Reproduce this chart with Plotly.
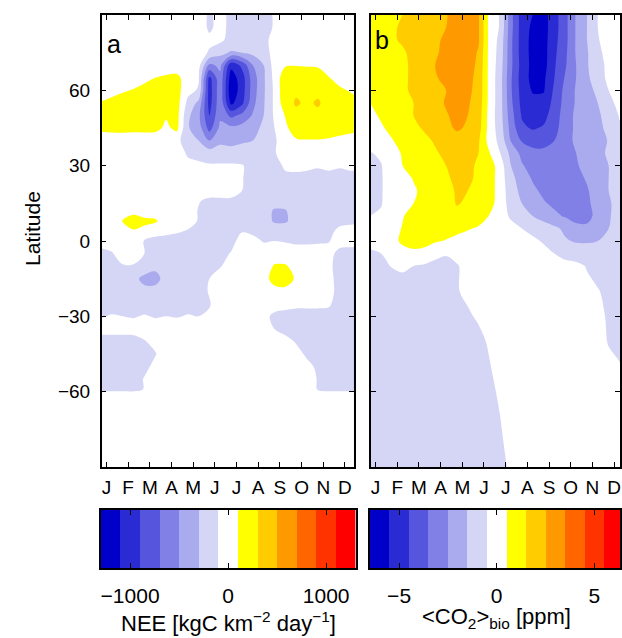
import plotly.graph_objects as go

# ---------------------------------------------------------------- data
# month positions of the grid columns (fractional months)
MONTH_POS = [0.75, 1.25, 1.75, 2.25, 2.75, 3.25, 3.75, 4.25, 4.75, 5.25, 5.75, 6.25, 6.75,
             7.25, 7.75, 8.25, 8.75, 9.25, 9.75, 10.25, 10.75, 11.25, 11.75, 12.25, 12.5]
MONTH_TICKS = [1, 2, 3, 4, 5, 6, 7, 8, 9, 10, 11, 12]
MONTH_LABELS = ["J", "F", "M", "A", "M", "J", "J", "A", "S", "O", "N", "D"]
LAT_TICKS = [-60, -30, 0, 30, 60]

# panel a: net ecosystem exchange, kgC km-2 day-1 (rows south -> north)
LAT_A = [-90, -61, -59, -55, -50, -45, -40, -35, -30, -25, -20, -15, -10, -5, 0, 4, 8, 12,
         16, 20, 25, 30, 35, 40, 45, 50, 55, 60, 65, 70, 75, 80, 85, 90]
NEE = [
    [0, 0, 0, 0, 0, 0, 0, 0, 0, 0, 0, 0, 0, 0, 0, 0, 0, 0, 0, 0, 0, 0, 0, 0, 0],
    [0, 0, 0, 0, 0, 0, 0, 0, 0, 0, 0, 0, 0, 0, 0, 0, 0, 0, 0, 0, 0, 0, 0, 0, 0],
    [-170, -170, -170, -170, -90, -30, -20, -20, -20, -20, -20, -20, -20, -20, -20, -20, -20, -20, -20, -20, -110, -170, -170, -170, -170],
    [-170, -170, -170, -170, -90, -30, -20, -20, -20, -20, -20, -20, -20, -20, -20, -20, -20, -20, -20, -20, -110, -170, -170, -170, -170],
    [-170, -170, -170, -170, -140, -60, -20, -20, -20, -20, -20, -20, -20, -20, -20, -20, -20, -20, -20, -70, -120, -170, -170, -170, -170],
    [-170, -170, -170, -170, -160, -110, -20, -20, -20, -20, -20, -20, -20, -20, -20, -20, -20, -20, -60, -120, -160, -170, -170, -170, -170],
    [-170, -170, -170, -160, -110, -60, -20, -20, -20, -20, -20, -20, -20, -20, -20, -20, -20, -60, -110, -160, -170, -170, -170, -170, -170],
    [-40, -40, -40, -40, -40, -40, -20, -20, -20, -20, -20, -20, -20, -20, -20, -20, -100, -140, -170, -170, -170, -170, -170, -170, -170],
    [-110, -90, -100, -110, -90, -110, -100, -110, -90, -100, -80, -20, -20, -20, -20, -60, -130, -140, -150, -150, -150, -150, -160, -170, -170],
    [-160, -150, -160, -150, -160, -150, -160, -150, -150, -150, -110, -20, -20, -20, -20, -20, -40, -60, -70, -70, -70, -80, -160, -170, -170],
    [-170, -170, -170, -180, -230, -230, -170, -170, -160, -150, -90, -20, -20, -20, -20, -20, 50, 60, 20, -20, -20, -40, -160, -170, -170],
    [-170, -170, -180, -230, -370, -370, -220, -170, -170, -170, -100, -30, -20, -20, -20, 40, 160, 170, 80, -20, -20, -50, -160, -170, -170],
    [-170, -160, -110, -110, -150, -250, -170, -170, -170, -170, -130, -110, -40, -20, -20, -20, 120, 120, 30, -20, -20, -60, -170, -170, -170],
    [-150, -110, -40, -40, -100, -170, -170, -170, -170, -170, -170, -150, -90, -20, -20, -30, -20, -20, -20, -20, -30, -40, -150, -170, -170],
    [-30, -40, -30, -20, -110, -150, -170, -170, -160, -170, -170, -170, -150, -40, -60, -110, -100, -110, -130, -130, -120, -110, -30, -30, -40],
    [-20, -20, 40, 80, 50, -30, -50, -80, -110, -150, -170, -170, -160, -110, -130, -170, -170, -170, -170, -170, -170, -150, -60, -50, -50],
    [-20, -10, 110, 210, 140, 130, -20, -30, -40, -110, -180, -180, -180, -180, -180, -180, -330, -330, -200, -180, -180, -180, -150, -130, -130],
    [-20, -20, 0, 30, 10, -20, -20, -20, -20, -110, -180, -180, -180, -180, -180, -180, -330, -320, -170, -170, -170, -170, -170, -170, -170],
    [-30, -30, -30, -30, -30, -30, -30, -30, -30, -90, -130, -130, -130, -130, -170, -170, -180, -180, -170, -170, -170, -170, -170, -170, -170],
    [-20, -90, -30, -30, -30, -30, -30, -30, -30, -30, -30, -30, -30, -100, -170, -170, -170, -170, -170, -170, -170, -170, -170, -170, -170],
    [-20, -20, -20, -20, -20, -20, -20, -20, -20, -20, -20, -20, -20, -90, -170, -170, -170, -130, -140, -130, -140, -130, -140, -130, -130],
    [-20, -20, -20, -20, -20, -20, -20, -20, -60, -70, -80, -80, -80, -90, -150, -150, -150, -80, -60, -80, -90, -80, -90, -80, -80],
    [-20, -20, -20, -20, -20, -20, -20, -20, -120, -150, -200, -200, -200, -200, -180, -150, -110, -40, -30, -40, -30, -40, -30, -30, -30],
    [-40, -30, -30, -40, -30, -30, -40, -50, -200, -300, -500, -350, -380, -330, -300, -200, -120, -20, 80, 90, 90, 80, 50, 10, -20],
    [160, 170, 180, 170, 170, 160, 60, 150, -280, -400, -780, -450, -450, -420, -380, -250, -100, 60, 200, 210, 200, 190, 180, 170, 160],
    [170, 190, 200, 210, 200, 200, 120, 170, -250, -450, -900, -540, -750, -650, -480, -300, -70, 110, 250, 250, 260, 230, 220, 210, 200],
    [110, 150, 180, 200, 200, 210, 200, 180, -150, -350, -980, -560, -1150, -950, -560, -320, -60, 220, 320, 270, 320, 240, 220, 200, 170],
    [20, 40, 80, 110, 160, 200, 200, 180, -40, -120, -1000, -560, -1250, -1000, -600, -330, -60, 250, 270, 260, 260, 230, 140, 80, 50],
    [0, 0, 0, 20, 50, 100, 130, 150, 0, -80, -950, -560, -1200, -1000, -600, -330, -40, 230, 250, 240, 230, 110, 20, 0, 0],
    [0, 0, 0, 0, 0, 0, 0, -20, 0, -30, -550, -450, -1050, -850, -500, -300, -20, 80, 90, 80, 70, 0, 0, 0, 0],
    [0, 0, 0, 0, 0, 0, 0, 0, 0, -20, -120, -250, -320, -300, -250, -200, -20, 0, 0, 0, 0, 0, 0, 0, 0],
    [0, 0, 0, 0, 0, 0, 0, 0, 0, 0, -60, -60, -170, -170, -160, -150, -40, 0, 0, 0, 0, 0, 0, 0, 0],
    [0, 0, 0, 0, 0, 0, 0, 0, 0, 0, -130, -40, -150, -170, -170, -160, -85, 0, 0, 0, 0, 0, 0, 0, 0],
    [0, 0, 0, 0, 0, 0, 0, 0, 0, 0, -130, -40, -150, -170, -170, -160, -85, 0, 0, 0, 0, 0, 0, 0, 0],
]

# panel b: biospheric CO2 column anomaly, ppm (rows south -> north)
LAT_B = [-90, -75, -60, -50, -40, -30, -20, -10, -5, 0, 5, 10, 15, 20, 25, 30, 35, 40, 45,
         50, 55, 60, 65, 70, 75, 80, 85, 90]
CO2 = [
    [-0.8, -0.8, -0.8, -0.8, -0.8, -0.8, -0.8, -0.8, -0.8, -0.8, -0.8, -0.8, -0.65, -0.4, -0.1, -0.1, -0.1, -0.1, -0.1, -0.1, -0.1, -0.1, -0.1, -0.2, -0.3],
    [-0.8, -0.8, -0.8, -0.8, -0.8, -0.8, -0.8, -0.8, -0.8, -0.8, -0.8, -0.8, -0.55, -0.2, -0.1, -0.1, -0.1, -0.1, -0.1, -0.1, -0.1, -0.1, -0.1, -0.2, -0.3],
    [-0.8, -0.8, -0.8, -0.8, -0.8, -0.8, -0.8, -0.8, -0.8, -0.8, -0.8, -0.65, -0.4, -0.1, -0.1, -0.1, -0.1, -0.1, -0.1, -0.1, -0.1, -0.1, -0.1, -0.3, -0.5],
    [-0.8, -0.8, -0.8, -0.8, -0.8, -0.8, -0.8, -0.8, -0.8, -0.8, -0.8, -0.55, -0.2, -0.1, -0.1, -0.1, -0.1, -0.1, -0.1, -0.1, -0.1, -0.1, -0.3, -0.45, -0.6],
    [-0.8, -0.8, -0.8, -0.8, -0.8, -0.8, -0.8, -0.8, -0.8, -0.8, -0.7, -0.4, -0.1, -0.1, -0.1, -0.1, -0.1, -0.1, -0.1, -0.1, -0.1, -0.2, -0.55, -0.7, -0.8],
    [-0.8, -0.8, -0.8, -0.8, -0.8, -0.8, -0.8, -0.8, -0.8, -0.6, -0.4, -0.1, -0.1, -0.1, -0.1, -0.1, -0.1, -0.1, -0.1, -0.1, -0.1, -0.3, -0.6, -0.8, -0.8],
    [-0.8, -0.8, -0.8, -0.8, -0.8, -0.8, -0.8, -0.8, -0.55, -0.35, -0.1, -0.1, -0.1, -0.1, -0.1, -0.1, -0.1, -0.1, -0.1, -0.2, -0.3, -0.45, -0.7, -0.8, -0.8],
    [-0.7, -0.6, -0.48, -0.4, -0.5, -0.6, -0.7, -0.7, -0.55, -0.3, -0.2, -0.1, -0.1, -0.1, -0.1, -0.1, -0.1, -0.1, -0.2, -0.3, -0.55, -0.8, -0.9, -0.9, -0.9],
    [-0.6, -0.5, -0.3, 0.1, 0.2, 0.1, -0.3, -0.45, -0.3, -0.2, -0.1, -0.1, -0.1, -0.1, -0.1, -0.1, -0.2, -0.5, -0.8, -0.9, -1.0, -1.0, -1.0, -0.9, -0.9],
    [-0.3, -0.2, 0.15, 0.7, 1.0, 0.9, 0.6, 0.45, 0.2, 0.0, -0.1, -0.1, -0.1, -0.1, -0.1, -0.3, -0.6, -0.9, -1.4, -1.6, -1.6, -1.5, -1.3, -1.0, -1.0],
    [-0.2, -0.1, 0.2, 0.55, 0.9, 1.0, 1.0, 0.9, 0.8, 0.6, 0.35, 0.1, -0.1, -0.3, -0.5, -0.8, -1.0, -1.3, -1.7, -2.2, -2.3, -2.0, -1.5, -1.0, -1.0],
    [-0.5, -0.4, 0.0, 0.45, 0.8, 1.0, 1.1, 1.2, 1.3, 1.25, 1.1, 0.45, -0.2, -0.6, -1.1, -1.5, -1.9, -2.3, -2.6, -2.9, -2.8, -2.2, -1.6, -1.1, -1.1],
    [-0.6, -0.55, -0.1, 0.2, 0.5, 0.8, 1.0, 1.2, 1.55, 1.4, 1.2, 0.9, 0.0, -0.9, -1.5, -2.0, -2.4, -2.7, -2.9, -2.9, -2.7, -2.1, -1.6, -1.2, -1.2],
    [-0.6, -0.55, -0.2, 0.1, 0.4, 0.7, 1.0, 1.2, 1.6, 1.5, 1.2, 1.0, 0.0, -1.0, -1.8, -2.3, -2.7, -3.0, -3.0, -2.9, -2.6, -2.0, -1.5, -1.1, -1.0],
    [-0.7, -0.55, -0.2, 0.2, 0.55, 0.9, 1.1, 1.3, 1.8, 1.7, 1.3, 1.0, 0.0, -1.2, -2.0, -2.6, -3.0, -3.1, -3.0, -2.8, -2.4, -1.9, -1.5, -1.0, -0.9],
    [-0.7, -0.55, 0.0, 0.5, 0.8, 1.0, 1.3, 1.5, 1.9, 1.8, 1.3, 1.0, 0.0, -1.5, -2.4, -2.9, -3.2, -3.1, -2.9, -2.6, -2.2, -1.8, -1.5, -1.0, -0.8],
    [-0.55, -0.35, 0.1, 0.6, 0.9, 1.1, 1.4, 1.7, 2.1, 2.0, 1.5, 0.55, -0.5, -1.8, -2.8, -3.2, -3.3, -3.2, -2.9, -2.5, -2.1, -1.7, -1.4, -0.7, -0.7],
    [-0.1, 0.2, 0.45, 0.8, 1.1, 1.3, 1.6, 2.0, 2.2, 2.1, 1.6, 0.1, -0.8, -2.6, -3.6, -3.9, -3.8, -3.5, -2.9, -2.3, -2.0, -1.8, -1.45, -0.8, -0.6],
    [0.1, 0.4, 0.7, 1.0, 1.3, 1.6, 1.9, 2.3, 2.6, 2.4, 1.9, 0.1, -1.0, -2.9, -4.3, -4.6, -4.4, -3.8, -3.0, -2.3, -2.0, -1.7, -1.3, -0.6, -0.55],
    [0.3, 0.6, 0.9, 1.2, 1.5, 1.7, 2.0, 2.4, 2.8, 2.5, 2.0, 0.1, -1.1, -3.1, -4.6, -4.9, -4.8, -4.0, -3.0, -2.3, -2.0, -1.7, -1.0, -0.45, -0.3],
    [0.5, 0.9, 1.1, 1.3, 1.5, 1.7, 2.1, 2.6, 2.9, 2.6, 2.1, 0.2, -1.1, -3.3, -4.8, -5.2, -5.1, -4.2, -3.1, -2.4, -1.9, -1.5, -0.7, -0.3, -0.1],
    [0.7, 1.0, 1.2, 1.4, 1.6, 1.8, 2.2, 2.5, 3.0, 2.7, 2.2, 0.2, -1.1, -3.4, -4.9, -5.6, -5.6, -4.3, -3.2, -2.4, -1.8, -1.3, -0.5, -0.1, 0.0],
    [0.8, 1.0, 1.2, 1.4, 1.6, 1.9, 2.4, 2.8, 3.1, 2.8, 2.2, 0.2, -1.1, -3.4, -5.0, -5.8, -5.7, -4.5, -3.4, -2.5, -1.7, -0.9, -0.3, -0.1, 0.0],
    [0.9, 1.1, 1.3, 1.4, 1.6, 2.0, 2.5, 2.8, 3.1, 2.9, 2.3, 0.2, -1.0, -3.3, -4.9, -5.8, -5.9, -4.6, -3.6, -2.5, -1.6, -0.8, -0.3, 0.0, 0.0],
    [0.9, 1.1, 1.3, 1.4, 1.7, 2.1, 2.4, 2.7, 3.0, 3.0, 2.4, 0.2, -0.9, -3.3, -5.0, -5.8, -5.9, -4.7, -3.7, -2.4, -1.6, -0.7, -0.2, 0.0, 0.0],
    [0.9, 1.2, 1.4, 1.6, 1.9, 2.2, 2.4, 2.6, 3.1, 3.2, 2.6, 0.2, -0.8, -3.3, -5.0, -5.8, -5.9, -4.8, -3.8, -2.4, -1.5, -0.55, -0.2, 0.0, 0.0],
    [0.9, 1.2, 1.4, 1.6, 2.0, 2.2, 2.3, 2.5, 3.1, 3.2, 2.6, 0.2, -0.6, -3.2, -5.0, -5.7, -5.9, -4.9, -3.8, -2.4, -1.5, -0.5, -0.2, 0.0, 0.0],
    [0.9, 1.2, 1.4, 1.5, 2.0, 2.2, 2.3, 2.4, 3.1, 3.2, 2.6, 0.2, -0.6, -3.2, -5.0, -5.5, -5.9, -4.9, -3.8, -2.4, -1.5, -0.5, -0.2, 0.0, 0.0],
]

# 13 colour classes, deep blue -> white -> red
CLASS_COLORS = ["#0000C8", "#2B2BD4", "#5555DD", "#8080E6", "#AAAAEE", "#D5D5F6", "#FFFFFF",
                "#FFFF00", "#FFCC00", "#FF9900", "#FF6600", "#FF3300", "#FF0000"]
NEE_CLASS_CENTERS = [-1200, -1000, -800, -600, -400, -200, 0, 200, 400, 600, 800, 1000, 1200]
CO2_CLASS_CENTERS = [-6, -5, -4, -3, -2, -1, 0, 1, 2, 3, 4, 5, 6]
NEE_TICKS = [-1000, 0, 1000]
CO2_TICKS = [-5, 0, 5]

# ---------------------------------------------------------------- styling
W, H = 622, 638
FONT = "Liberation Sans, Arial, Helvetica, sans-serif"
n = len(CLASS_COLORS)
STEP_SCALE = [[i / (n - 1), c] for i, c in enumerate(CLASS_COLORS)]


def px_x(p):
    return p / W


def px_y(p):
    return 1 - p / H


PX_PER_MONTH = 21.75
A_LEFT, A_RIGHT = 102, 355
B_LEFT, B_RIGHT = 372, 622
TOP, BOTTOM = 15, 467
CB_TOP, CB_BOTTOM = 510, 568
MONTH0 = 0.78

fig = go.Figure()


def field(x, y, z, centers, xa, ya):
    # contour levels sit halfway between neighbouring class centres
    step = centers[1] - centers[0]
    return go.Contour(
        x=x, y=y, z=z, xaxis=xa, yaxis=ya,
        autocontour=False,
        contours=dict(start=centers[0] + step / 2, end=centers[-1] - step / 2, size=step,
                      coloring="fill", showlines=False),
        line=dict(width=0), colorscale=STEP_SCALE, showscale=False, hoverinfo="skip",
    )


def bar(centers, xa, ya):
    return go.Heatmap(
        x=centers, y=[0], z=[list(range(len(centers)))], xaxis=xa, yaxis=ya,
        zmin=0, zmax=len(centers) - 1, colorscale=STEP_SCALE, showscale=False,
        hoverinfo="skip",
    )


fig.add_trace(field(MONTH_POS, LAT_A, NEE, NEE_CLASS_CENTERS, "x", "y"))
fig.add_trace(field(MONTH_POS, LAT_B, CO2, CO2_CLASS_CENTERS, "x2", "y2"))
fig.add_trace(bar(NEE_CLASS_CENTERS, "x3", "y3"))
fig.add_trace(bar(CO2_CLASS_CENTERS, "x4", "y4"))

frame = dict(showline=True, linecolor="black", linewidth=1.5, mirror="ticks", ticks="inside",
             ticklen=5, tickwidth=1.2, tickcolor="black", showgrid=False, zeroline=False,
             tickfont=dict(family=FONT, size=19, color="black"))

fig.update_layout(
    width=W, height=H, margin=dict(l=0, r=0, t=0, b=0),
    paper_bgcolor="white", plot_bgcolor="white", showlegend=False,
    font=dict(family=FONT, color="black"),
    xaxis=dict(frame, domain=[px_x(A_LEFT), px_x(A_RIGHT)],
               range=[MONTH0, MONTH0 + (A_RIGHT - A_LEFT) / PX_PER_MONTH],
               tickvals=MONTH_TICKS, ticktext=MONTH_LABELS, anchor="y", ticklabelstandoff=2),
    yaxis=dict(frame, domain=[px_y(BOTTOM), px_y(TOP)], range=[-90, 90],
               tickvals=LAT_TICKS, anchor="x", ticklabelstandoff=6),
    xaxis2=dict(frame, domain=[px_x(B_LEFT), px_x(B_RIGHT)],
                range=[MONTH0, MONTH0 + (B_RIGHT - B_LEFT) / PX_PER_MONTH],
                tickvals=MONTH_TICKS, ticktext=MONTH_LABELS, anchor="y2", ticklabelstandoff=2),
    yaxis2=dict(frame, domain=[px_y(BOTTOM), px_y(TOP)], range=[-90, 90],
                tickvals=LAT_TICKS, showticklabels=False, anchor="x2"),
    xaxis3=dict(frame, domain=[px_x(101), px_x(356.7)], range=[-1300, 1300],
                tickvals=NEE_TICKS, anchor="y3", ticklabelstandoff=8,
                tickfont=dict(family=FONT, size=21, color="black")),
    yaxis3=dict(frame, domain=[px_y(CB_BOTTOM), px_y(CB_TOP)], range=[-0.5, 0.5],
                ticks="", showticklabels=False, anchor="x3"),
    xaxis4=dict(frame, domain=[px_x(371), px_x(622)], range=[-6.5, -6.5 + (622 - 371) / 19.58],
                tickvals=CO2_TICKS, anchor="y4", ticklabelstandoff=8,
                tickfont=dict(family=FONT, size=21, color="black")),
    yaxis4=dict(frame, domain=[px_y(CB_BOTTOM), px_y(CB_TOP)], range=[-0.5, 0.5],
                ticks="", showticklabels=False, anchor="x4"),
)

annotations = [
    dict(text="Latitude", x=px_x(33), y=px_y(228), textangle=-90, font=dict(size=21)),
    dict(text="a", x=px_x(114), y=px_y(44), font=dict(size=25)),
    dict(text="b", x=px_x(383), y=px_y(40), font=dict(size=25)),
    dict(text="NEE [kgC km<sup>\u22122</sup> day<sup>\u22121</sup>]", x=px_x(228.8),
         y=px_y(606), yanchor="top", font=dict(size=22)),
    dict(text="&lt;CO<sub>2</sub>&gt;<sub>bio</sub> [ppm]", x=px_x(498.5),
         y=px_y(602), yanchor="top", font=dict(size=22)),
]
for a in annotations:
    a.setdefault("yanchor", "middle")
    fig.add_annotation(xref="paper", yref="paper", showarrow=False, xanchor="center",
                       font=dict(family=FONT, color="black", size=a.pop("font")["size"]), **a)

fig.write_html("out.html")
